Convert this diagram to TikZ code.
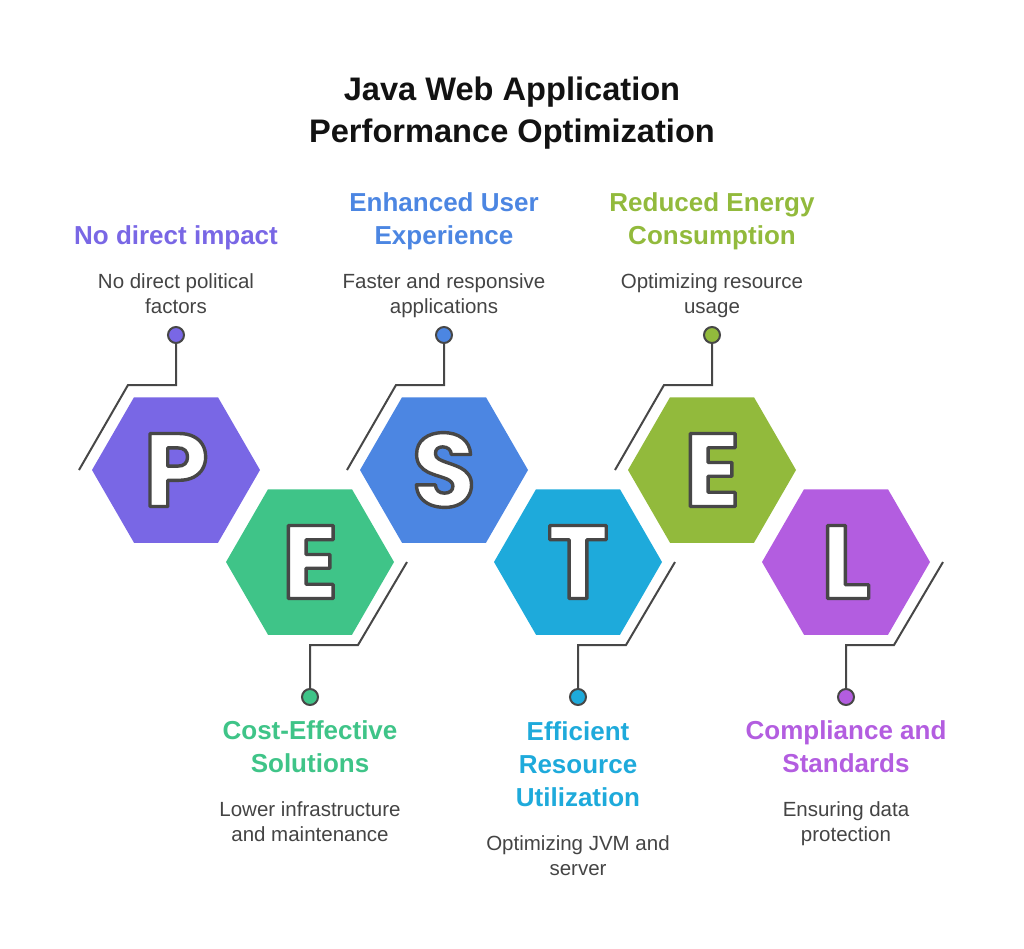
\documentclass[tikz,border=0pt]{standalone}
\usepackage{fontspec}
\setmainfont{Liberation Sans}
\newfontfamily\hexfont{Poppins}
\usetikzlibrary{shapes.geometric}

\definecolor{cP}{HTML}{7967E5}
\definecolor{cE}{HTML}{3FC488}
\definecolor{cS}{HTML}{4C86E2}
\definecolor{cT}{HTML}{1EAADB}
\definecolor{cEn}{HTML}{92BA3C}
\definecolor{cL}{HTML}{B35DE0}
\definecolor{ink}{HTML}{474747}
\definecolor{txt}{HTML}{444444}

% white letter with a dark rim (fill, then stroke)
\newcommand{\rimmed}[1]{\special{pdf:literal direct 2 Tr 3.4 w 1 j 0.278 0.278 0.278 RG}#1}

\begin{document}
\begin{tikzpicture}
  [x=1pt,y=-1pt,
   hexa/.style={regular polygon,regular polygon sides=6,minimum size=168pt,inner sep=0pt,
     text=white,font=\hexfont\bfseries\fontsize{104}{104}\selectfont},
   dot/.style={circle,minimum size=16pt,inner sep=0pt,draw=ink,line width=2pt},
   link/.style={draw=ink,line width=2pt},
   head/.style={anchor=base,align=center,font=\bfseries\fontsize{26}{33}\selectfont},
   desc/.style={anchor=base,align=center,text=txt,font=\fontsize{20.5}{24.5}\selectfont}]
  \useasboundingbox (0,0) rectangle (1024,948);

  \node[anchor=base,align=center,text=black!93,font=\bfseries\fontsize{32.6}{42}\selectfont]
    (title) at (512,142) {Java Web Application\\Performance Optimization};

  % hexagons
  \node[hexa,fill=cP]  (p)  at (176,470) {\rimmed{P}};
  \node[hexa,fill=cE]  (e)  at (310,562) {\rimmed{E}};
  \node[hexa,fill=cS]  (s)  at (444,470) {\rimmed{S}};
  \node[hexa,fill=cT]  (t)  at (578,562) {\rimmed{T}};
  \node[hexa,fill=cEn] (en) at (712,470) {\rimmed{E}};
  \node[hexa,fill=cL]  (l)  at (846,562) {\rimmed{L}};

  % connectors
  \coordinate (pstart)  at (79,470);
  \coordinate (sstart)  at (347,470);
  \coordinate (enstart) at (615,470);
  \coordinate (estart)  at (407,562);
  \coordinate (tstart)  at (675,562);
  \coordinate (lstart)  at (943,562);

  \node[dot,fill=cP]  (pdot)  at (176,335) {};
  \node[dot,fill=cS]  (sdot)  at (444,335) {};
  \node[dot,fill=cEn] (endot) at (712,335) {};
  \node[dot,fill=cE]  (edot)  at (310,697) {};
  \node[dot,fill=cT]  (tdot)  at (578,697) {};
  \node[dot,fill=cL]  (ldot)  at (846,697) {};

  \draw[link] (pstart)  -- ++(49,-85) -| (pdot);
  \draw[link] (sstart)  -- ++(49,-85) -| (sdot);
  \draw[link] (enstart) -- ++(49,-85) -| (endot);
  \draw[link] (estart)  -- ++(-49,83) -| (edot);
  \draw[link] (tstart)  -- ++(-49,83) -| (tdot);
  \draw[link] (lstart)  -- ++(-49,83) -| (ldot);

  % texts
  \node[head,text=cP]  (phead)  at (176,244) {No direct impact};
  \node[desc]          (pdesc)  at (176,313) {No direct political\\factors};
  \node[head,text=cS]  (shead)  at (444,244) {Enhanced User\\Experience};
  \node[desc]          (sdesc)  at (444,313) {Faster and responsive\\applications};
  \node[head,text=cEn] (enhead) at (712,244) {Reduced Energy\\Consumption};
  \node[desc]          (endesc) at (712,313) {Optimizing resource\\usage};

  \node[head,text=cE]  (ehead)  at (310,772) {Cost-Effective\\Solutions};
  \node[desc]          (edesc)  at (310,841) {Lower infrastructure\\and maintenance};
  \node[head,text=cT]  (thead)  at (578,806) {Efficient\\Resource\\Utilization};
  \node[desc]          (tdesc)  at (578,875) {Optimizing JVM and\\server};
  \node[head,text=cL]  (lhead)  at (846,772) {Compliance and\\Standards};
  \node[desc]          (ldesc)  at (846,841) {Ensuring data\\protection};
\end{tikzpicture}
\end{document}
